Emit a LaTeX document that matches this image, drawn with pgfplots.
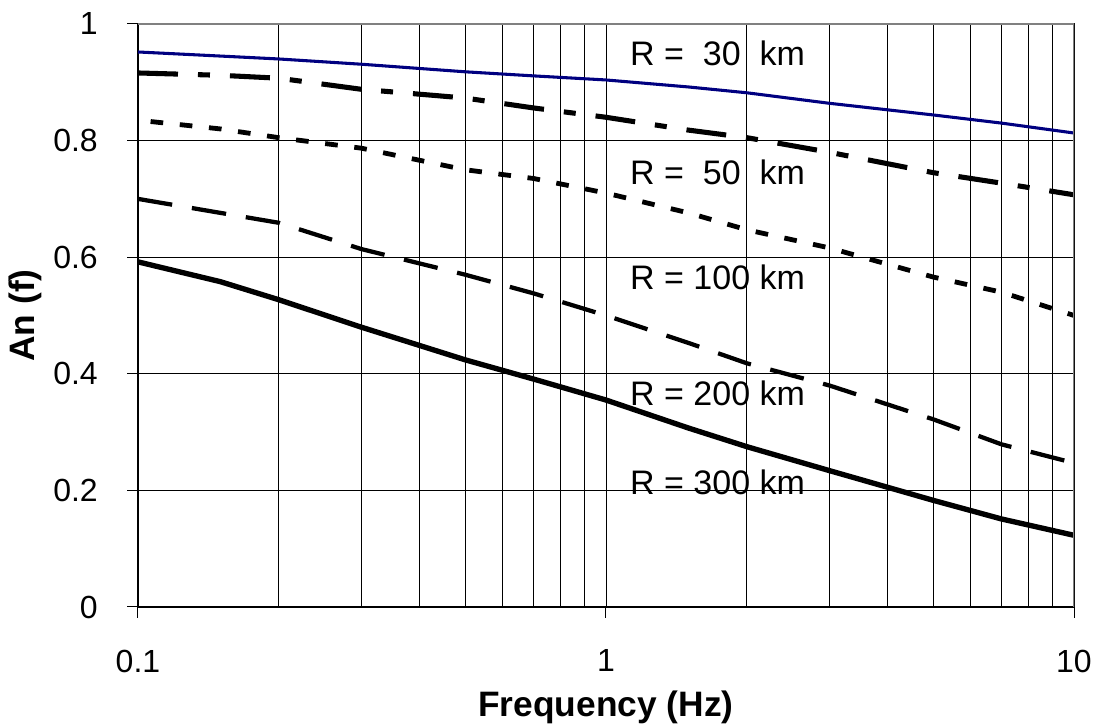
\documentclass[border=0pt]{standalone}
\usepackage{fontspec}
\setmainfont{Liberation Sans}
\usepackage{pgfplots}
\pgfplotsset{compat=1.18}
\definecolor{navyline}{RGB}{0,0,128}
\begin{document}
\begin{tikzpicture}
\begin{axis}[
  at={(0,0)}, anchor=south west,
  scale only axis, width=702pt, height=437.25pt,
  xmode=log, xmin=0.1, xmax=10, ymin=0, ymax=1,
  xtick={0.1,1,10}, xticklabels={0.1,1,10},
  ytick={0,0.2,0.4,0.6,0.8,1}, yticklabels={0,0.2,0.4,0.6,0.8,1},
  minor xtick={0.2,0.3,0.4,0.5,0.6,0.7,0.8,0.9,2,3,4,5,6,7,8,9},
  grid=both,
  major grid style={black, line width=0.6pt},
  minor grid style={black, line width=0.6pt},
  tick align=outside, xtick pos=bottom, ytick pos=left,
  major tick length=8pt, minor tick length=0pt,
  tick style={black, line width=0.75pt},
  axis line style={black, line width=0.75pt},
  tick label style={font=\fontsize{24}{28}\selectfont},
  /pgf/number format/assume math mode=true,
  xticklabel style={anchor=north, inner sep=0pt, yshift=-24pt},
  yticklabel style={anchor=east, inner sep=0pt, xshift=-22pt},
  xlabel={Frequency (Hz)}, ylabel={An (f)},
  label style={font=\bfseries\fontsize{26.5}{30}\selectfont},
  xlabel style={at={(axis description cs:0.5,-0.1715)}, anchor=center},
  ylabel style={at={(axis description cs:-0.1207,0.5)}, anchor=center},
]
% R = 30 km
\addplot[navyline, line width=2.3pt] coordinates {
 (0.1,0.952) (0.15,0.945) (0.2,0.940) (0.3,0.931) (0.5,0.918) (0.7,0.911)
 (1,0.904) (1.5,0.892) (2,0.882) (3,0.864) (5,0.844) (7,0.830) (10,0.813)};
% R = 50 km
\addplot[black, line width=3.8pt, dash pattern=on 30pt off 15pt on 9pt off 15pt] coordinates {
 (0.1,0.916) (0.15,0.912) (0.2,0.907) (0.3,0.888) (0.5,0.873) (0.7,0.856)
 (1,0.840) (1.5,0.818) (2,0.805) (3,0.780) (5,0.745) (7,0.727) (10,0.707)};
% R = 100 km
\addplot[black, line width=3.6pt, dash pattern=on 9.5pt off 12.5pt, dash phase=12.5pt] coordinates {
 (0.1,0.835) (0.15,0.820) (0.2,0.805) (0.3,0.787) (0.5,0.750) (0.7,0.735)
 (1,0.710) (1.5,0.676) (2,0.647) (3,0.616) (5,0.566) (7,0.540) (10,0.500)};
% R = 200 km
\addplot[black, line width=3.2pt, dash pattern=on 26pt off 15pt] coordinates {
 (0.1,0.700) (0.15,0.676) (0.2,0.659) (0.3,0.614) (0.5,0.570) (0.7,0.538)
 (1,0.500) (1.5,0.453) (2,0.418) (3,0.380) (5,0.322) (7,0.279) (10,0.247)};
% R = 300 km
\addplot[black, line width=4pt] coordinates {
 (0.1,0.592) (0.15,0.558) (0.2,0.527) (0.3,0.480) (0.5,0.424) (0.7,0.391)
 (1,0.355) (1.5,0.307) (2,0.275) (3,0.234) (5,0.183) (7,0.151) (10,0.123)};
\draw[gray, line width=0.9pt] (rel axis cs:0,1) -- (rel axis cs:1,1) -- (rel axis cs:1,0);
\begin{scope}[every node/.style={anchor=west, inner sep=0pt, font=\fontsize{25.5}{30}\selectfont}]
\node at (axis cs:1.125,0.950) {R =\ \ 30\ \ km};
\node at (axis cs:1.125,0.746) {R =\ \ 50\ \ km};
\node at (axis cs:1.125,0.566) {R = 100 km};
\node at (axis cs:1.125,0.367) {R = 200 km};
\node at (axis cs:1.125,0.214) {R = 300 km};
\end{scope}
\end{axis}
\pgfresetboundingbox
\path[use as bounding box] (-103.5pt,-90pt) rectangle (721.5pt,455.25pt);
\end{tikzpicture}
\end{document}
